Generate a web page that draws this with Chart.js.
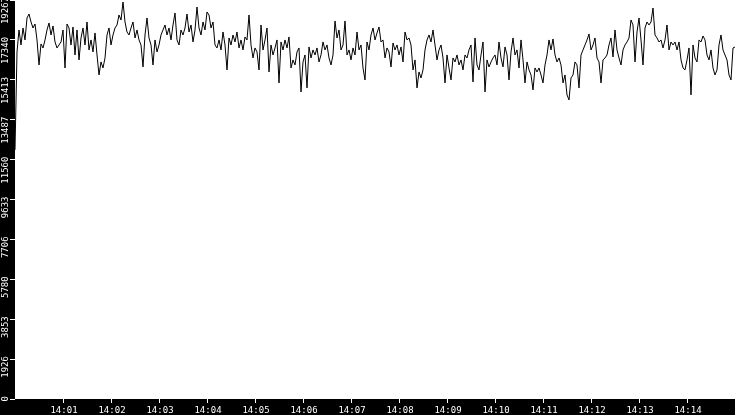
<!DOCTYPE html>
<html>
<head>
<meta charset="utf-8">
<title>chart</title>
<script src="https://cdn.jsdelivr.net/npm/chart.js@4.4.1/dist/chart.umd.min.js"></script>
<style>
  html, body { margin: 0; padding: 0; background: #000; }
  canvas { display: block; }
</style>
</head>
<body>
<canvas id="chart" width="735" height="415"></canvas>
<script>
// one sample every 2.5 s from 14:00:00 to 14:15:00
const sampleStep = 2.5;
const values = [
  12030, 16758, 17820, 17096, 17916, 17337, 18399, 18592, 18206, 17916,
  18109, 17337, 16131, 17144, 16951, 17337, 17820, 18157, 17578, 18013,
  17241, 16951, 17096, 17241, 17820, 15986, 18109, 17916, 17096, 17964,
  16613, 17820, 16372, 17434, 17916, 17096, 18206, 16855, 17337, 16758,
  17675, 16613, 15648, 16276, 15986, 16469,
  17578, 17916, 17096, 17578, 17916, 18061, 18543, 18302, 19171, 18206,
  17723, 17578, 17916, 18206, 17434, 17820, 17337, 17096, 16034, 17578,
  18399, 17434, 17096, 16131, 17337, 16758, 17096, 17578, 17820, 18061,
  17578, 17916, 17337, 18061, 18640, 17337, 17096, 17820, 17578, 17916,
  18592, 17723, 18061, 17241, 17820,
  18929, 17916, 17578, 18206, 17820, 18688, 18543, 17916, 18206, 17096,
  16951, 17337, 16855, 17723, 17096, 15890, 17434, 17096, 17578, 17241,
  17723, 16951, 17337, 16855, 17482, 17337, 18543, 17096, 16469, 16951,
  16758, 15890, 18061, 16855, 17337, 17916, 15793, 17096, 16613, 16951,
  17337, 15262, 17241, 16855, 17337,
  16951, 17482, 15986, 16372, 16131, 16758, 16951, 14828, 16276, 16613,
  15021, 16999, 16469, 16855, 16613, 16951, 16276, 16613, 17241, 16855,
  17096, 16469, 16131, 16613, 18254, 17434, 17820, 16855, 17096, 18254,
  16613, 16855, 16372, 16951, 16613, 17723, 16855, 17096, 15986, 15407,
  17241, 16855, 17578, 17916, 17337,
  17675, 17964, 17241, 17337, 16469, 16951, 16758, 16034, 17192, 16855,
  17096, 16613, 16999, 16276, 17723, 17337, 17434, 17096, 15890, 16372,
  15021, 15793, 15504, 15890, 16855, 17337, 17578, 17241, 17820, 17096,
  16372, 16855, 17096, 16469, 15262, 16613, 15986, 15407, 16469, 16276,
  16613, 16131, 16372, 15890, 16613, 16469, 16855, 17096, 15311, 17434,
  16131, 15890, 16613, 17241, 14828, 16372, 16034, 16276, 16469, 16613,
  16131, 17241, 16469, 16034, 16999, 16613, 15407, 16758, 17434, 16613,
  16855, 15986, 17337, 16372, 15262, 16276, 15890, 15648, 14925, 15986,
  15793, 15986, 15648, 15262, 16131, 16613, 17337, 16855, 17385, 16613,
  16276, 16469, 16131, 15262, 15648, 14684, 14442, 15504, 15648, 16276,
  16131, 15021, 16613, 16855, 17096, 17337, 17627, 16855, 17096, 17434,
  16469, 16276, 15262, 16372, 16469, 16613, 17096, 17434, 16517, 17820,
  16855, 16469, 16131, 16855, 17096, 17241, 17434, 18302, 18061, 16276,
  17723, 18399, 17337, 16131, 17916, 18206, 18061, 18206, 18881, 17578,
  17434, 17241, 17337, 16951, 17337, 18061, 16855, 17241, 17096, 17241,
  16855, 17241, 16372, 15986, 15890, 16372, 16951, 14684, 17096, 16469,
  16276, 17337, 17241, 17530, 17337, 16613, 16372, 16855, 15986, 15648,
  15890, 17096, 17578, 16855, 16613, 16372, 15648, 15407, 16951, 16999
];
const tickTimes = [60, 120, 180, 240, 300, 360, 420, 480, 540, 600, 660, 720, 780, 840];
const tickLabels = ['14:01', '14:02', '14:03', '14:04', '14:05', '14:06', '14:07',
  '14:08', '14:09', '14:10', '14:11', '14:12', '14:13', '14:14'];
const yTicks = [0, 1926, 3853, 5780, 7706, 9633, 11560, 13487, 15413, 17340, 19267];
const yMax = 19267;
const timeSpan = 900;

const points = values.map((v, i) => ({ x: i * sampleStep, y: v }));

const background = {
  id: 'background',
  beforeDraw(chart) {
    const c = chart.ctx;
    const a = chart.chartArea;
    c.save();
    c.fillStyle = '#000';
    c.fillRect(0, 0, chart.width, chart.height);
    c.fillStyle = '#fff';
    c.fillRect(a.left, a.top, a.right - a.left, a.bottom - a.top);
    c.restore();
  }
};

const tickFont = { family: 'DejaVu Sans Mono', size: 9 };

const ctx = document.getElementById('chart').getContext('2d');
const myChart = new Chart(ctx, {
  type: 'line',
  data: {
    datasets: [{
      data: points,
      borderColor: '#000',
      borderWidth: 1,
      pointRadius: 0,
      tension: 0,
      fill: false
    }]
  },
  options: {
    responsive: false,
    animation: false,
    layout: { padding: 0 },
    plugins: {
      legend: { display: false },
      tooltip: { enabled: false }
    },
    scales: {
      x: {
        type: 'linear',
        min: 0,
        max: timeSpan,
        afterBuildTicks: axis => {
          axis.ticks = tickTimes.map(t => ({ value: t }));
        },
        afterFit: axis => {
          axis.height = 16;
          axis.paddingLeft = 0;
          axis.paddingRight = 0;
        },
        ticks: {
          color: '#fff',
          font: tickFont,
          padding: 2,
          labelOffset: 1,
          maxRotation: 0,
          autoSkip: false,
          callback: (value, index) => tickLabels[index]
        },
        grid: { drawOnChartArea: false, color: '#fff', tickLength: 4 },
        border: { display: false }
      },
      y: {
        min: 0,
        max: yMax,
        afterBuildTicks: axis => {
          axis.ticks = yTicks.map(v => ({ value: v }));
        },
        afterFit: axis => {
          axis.width = 15;
          axis.paddingTop = 0;
          axis.paddingBottom = 0;
        },
        ticks: {
          color: '#fff',
          font: tickFont,
          padding: 4,
          minRotation: 90,
          maxRotation: 90,
          labelOffset: -3,
          autoSkip: false,
          callback: value => String(value)
        },
        grid: { drawOnChartArea: false, color: '#fff', tickLength: 5 },
        border: { display: false }
      }
    }
  },
  plugins: [background]
});
</script>
</body>
</html>
